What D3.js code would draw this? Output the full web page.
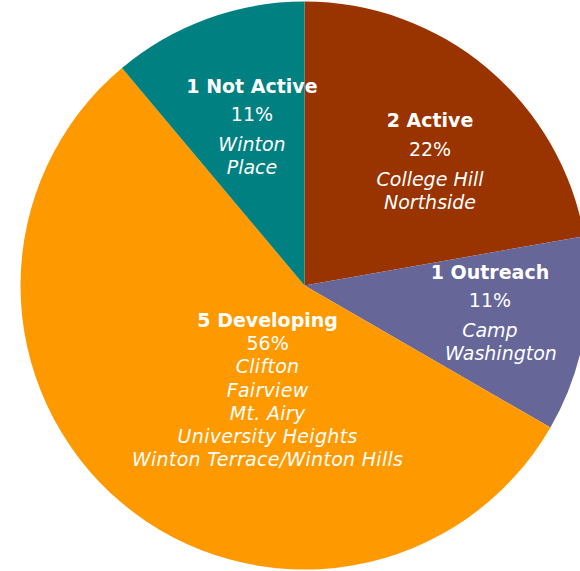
<!DOCTYPE html>
<html>
<head>
<meta charset="utf-8">
<script src="https://cdn.jsdelivr.net/npm/d3@7"></script>
<style>
  html, body { margin: 0; padding: 0; background: #fff; overflow: hidden; }
  svg { display: block; }
  text { font-family: "DejaVu Sans", Verdana, sans-serif; font-size: 19px; fill: #fff; }
</style>
</head>
<body>
<svg id="chart" width="580" height="571"></svg>
<script>
// Data
const categories = ["2 Active", "1 Outreach", "5 Developing", "1 Not Active"];
const counts = [2, 1, 5, 1];
const percentLabels = ["22%", "11%", "56%", "11%"];
const neighborhoods = [
  ["College Hill", "Northside"],
  ["Camp", "Washington"],
  ["Clifton", "Fairview", "Mt. Airy", "University Heights", "Winton Terrace/Winton Hills"],
  ["Winton", "Place"]
];
const colors = ["#993300", "#666699", "#FF9900", "#008080"];

// Layout
const width = 580, height = 571;
const cx = 304.5, cy = 285.5, R = 284;
// label anchors as fractions of the radius (first line baseline)
const labelAnchor = [[0.442, -0.558], [0.653, -0.023], [-0.130, 0.146], [-0.185, -0.678]];
// line offsets (from first baseline)
const spacingLoose = [0, 28.5, 58.5, 81.5];
const spacingTight = 23.2;

const svg = d3.select("#chart");
const g = svg.append("g").attr("transform", `translate(${cx},${cy})`);

const pie = d3.pie().sort(null).value(d => d.v);
const arc = d3.arc().innerRadius(0).outerRadius(R);

const data = categories.map((c, i) => ({ c, v: counts[i], i }));
const arcs = pie(data);

g.selectAll("path.slice").data(arcs).enter().append("path")
  .attr("class", "slice")
  .attr("d", arc)
  .attr("fill", d => colors[d.data.i]);

arcs.forEach(a => {
  const i = a.data.i;
  const ax = labelAnchor[i][0] * R, ay = labelAnchor[i][1] * R;
  const lines = [
    { t: categories[i], w: "bold", s: "normal" },
    { t: percentLabels[i], w: "normal", s: "normal" },
    ...neighborhoods[i].map(n => ({ t: n, w: "normal", s: "italic" }))
  ];
  const tight = lines.length > 4;
  const t = g.append("text").attr("text-anchor", "middle");
  lines.forEach((ln, k) => {
    const off = tight ? k * spacingTight : (k < spacingLoose.length ? spacingLoose[k] : spacingLoose[spacingLoose.length - 1] + (k - 3) * 23);
    // the last wrapped line of the Outreach label sits slightly right in the original
    const shift = (i === 1 && k === lines.length - 1) ? 11 : 0;
    t.append("tspan")
      .attr("x", ax + shift)
      .attr("y", ay + off)
      .attr("font-weight", ln.w)
      .attr("font-style", ln.s)
      .attr("letter-spacing", tight && ln.s === "italic" ? 0.3 : 0)
      .text(ln.t);
  });
});
</script>
</body>
</html>
